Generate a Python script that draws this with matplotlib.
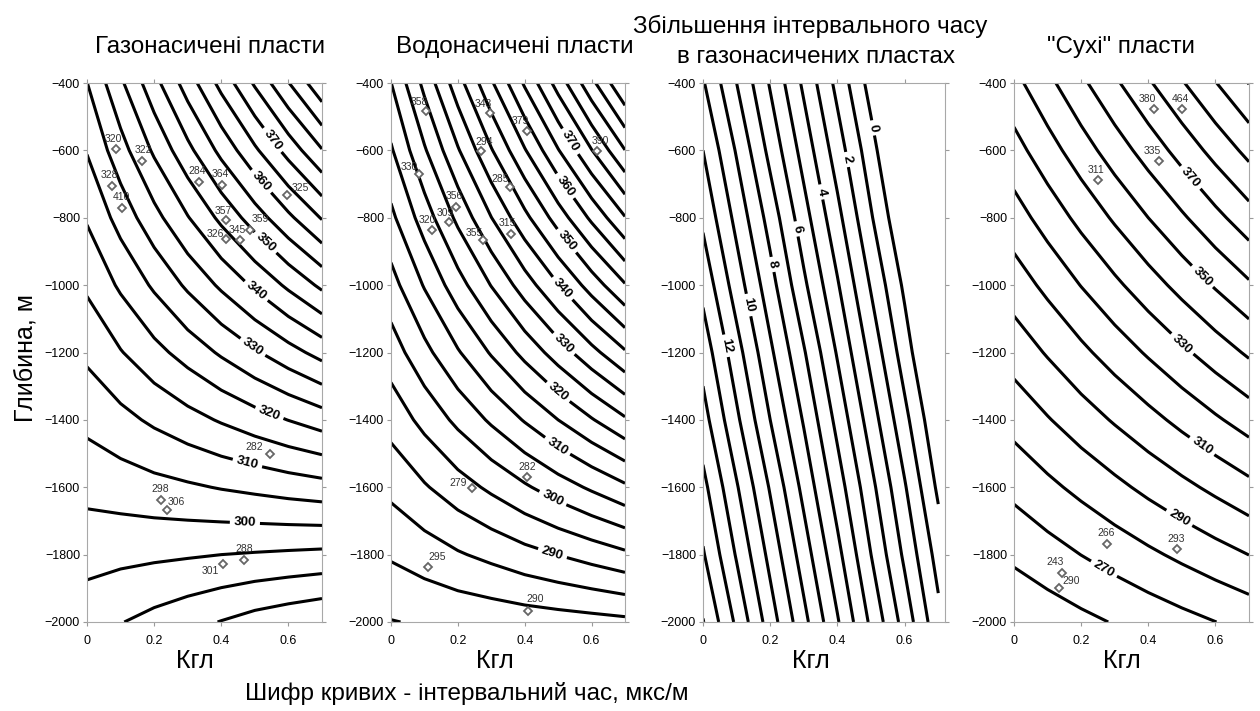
import numpy as np
import matplotlib.pyplot as plt

plt.rcParams['font.family'] = ['Liberation Sans', 'DejaVu Sans']

# grid nodes (Kгл across, depth down)
kgl = [0.0, 0.1, 0.2, 0.3, 0.4, 0.5, 0.6, 0.7]
depth = [-400, -600, -800, -1000, -1200, -1400, -1600, -1800, -2000]

# interval time, gas saturated beds
gas_dt = [
    [329.9, 339.1, 348.3, 357.4, 366.6, 375.7, 384.8, 394.0],
    [325.3, 333.0, 340.8, 348.6, 356.4, 364.1, 371.9, 379.7],
    [320.5, 326.9, 333.3, 339.7, 346.2, 352.5, 358.9, 365.4],
    [315.8, 320.8, 325.8, 330.9, 335.9, 340.9, 346.0, 351.1],
    [311.0, 314.7, 318.4, 322.0, 325.7, 329.4, 333.1, 336.8],
    [306.3, 308.5, 310.9, 313.2, 315.5, 317.8, 320.1, 322.4],
    [301.5, 302.4, 303.4, 304.3, 305.3, 306.2, 307.2, 308.1],
    [296.8, 296.3, 295.9, 295.5, 295.0, 294.6, 294.2, 293.8],
    [292.0, 290.2, 288.4, 286.6, 284.8, 283.0, 281.6, 280.3],
]

# interval time, water saturated beds
water_dt = [
    [319.9, 331.4, 342.9, 354.3, 365.7, 377.1, 388.6, 400.0],
    [314.4, 324.4, 334.5, 344.6, 354.6, 364.7, 374.8, 384.9],
    [308.8, 317.4, 326.2, 334.9, 343.6, 352.3, 361.0, 369.7],
    [303.1, 310.4, 317.9, 325.2, 332.5, 339.8, 347.2, 354.6],
    [297.5, 303.5, 309.5, 315.5, 321.5, 327.4, 333.4, 339.4],
    [291.9, 296.5, 301.2, 305.8, 310.4, 315.0, 319.6, 324.3],
    [286.3, 289.5, 292.8, 296.0, 299.3, 302.6, 305.8, 309.1],
    [280.6, 282.5, 284.5, 286.3, 288.3, 290.1, 292.0, 294.0],
    [274.8, 275.5, 276.1, 276.6, 277.2, 277.7, 278.2, 278.8],
]

# increase of interval time in gas beds
dt_increase = [
    [10.1, 8.0, 5.9, 3.8, 1.7, -0.4, -2.5, -4.6],
    [11.0, 8.9, 6.7, 4.6, 2.5, 0.4, -1.8, -3.9],
    [11.8, 9.7, 7.6, 5.4, 3.3, 1.1, -1.0, -3.2],
    [12.7, 10.5, 8.4, 6.2, 4.1, 1.9, -0.2, -2.4],
    [13.6, 11.4, 9.2, 7.1, 4.9, 2.7, 0.5, -1.7],
    [14.4, 12.2, 10.0, 7.9, 5.7, 3.5, 1.3, -0.9],
    [15.3, 13.1, 10.9, 8.7, 6.5, 4.3, 2.1, -0.2],
    [16.1, 13.9, 11.7, 9.5, 7.3, 5.0, 2.8, 0.6],
    [17.05, 14.8, 12.5, 10.3, 8.1, 5.8, 3.6, 1.3],
]

# interval time, "dry" beds
dry_dt = [
    [337.0, 347.4, 357.9, 368.3, 378.7, 389.1, 399.6, 410.3],
    [326.3, 335.8, 345.4, 354.9, 364.3, 373.8, 383.4, 392.9],
    [315.6, 324.2, 332.8, 341.4, 350.0, 358.5, 367.2, 375.8],
    [304.9, 312.5, 320.3, 327.9, 335.6, 343.3, 351.0, 358.6],
    [294.2, 300.9, 307.7, 314.5, 321.2, 328.0, 334.8, 341.5],
    [283.5, 289.3, 295.2, 301.0, 306.8, 312.7, 318.6, 324.4],
    [272.7, 277.7, 282.6, 287.5, 292.5, 297.4, 302.3, 307.3],
    [262.0, 266.0, 270.1, 274.1, 278.1, 282.1, 286.1, 290.1],
    [251.3, 254.4, 257.5, 260.6, 263.7, 266.8, 269.9, 273.0],
]

# well data points
gas_k = [0.086, 0.163, 0.073, 0.104, 0.334, 0.402, 0.595, 0.413, 0.486, 0.414,
         0.456, 0.545, 0.221, 0.239, 0.404, 0.468]
gas_h = [-595, -631, -707, -770, -693, -704, -731, -807, -835, -862,
         -866, -1501, -1637, -1668, -1829, -1815]
gas_val = [320, 322, 328, 410, 284, 364, 325, 357, 359, 326,
           345, 282, 298, 306, 301, 288]

water_k = [0.106, 0.295, 0.407, 0.270, 0.616, 0.084, 0.355, 0.194, 0.174, 0.122,
           0.276, 0.360, 0.407, 0.241, 0.112, 0.410]
water_h = [-482, -490, -543, -601, -603, -671, -708, -768, -813, -837,
           -867, -847, -1571, -1601, -1837, -1968]
water_val = [358, 343, 379, 294, 390, 330, 285, 356, 309, 320,
             355, 315, 282, 279, 295, 290]

dry_k = [0.416, 0.500, 0.431, 0.249, 0.277, 0.486, 0.144, 0.134]
dry_h = [-477, -477, -633, -688, -1768, -1784, -1856, -1900]
dry_val = [380, 464, 335, 311, 266, 293, 243, 290]

# label shifts in pixels (dx, dy up)
gas_shift = [(-3, 10), (2, 11), (-2, 11), (0, 11), (-2, 11), (-2, 11), (14, 7), (-2, 9),
             (10, 11), (-11, 5), (-3, 10), (-16, 7), (-1, 11), (9, 8), (-12, -7), (0, 11)]
water_shift = [(-7, 9), (-6, 9), (-7, 10), (3, 9), (3, 10), (-10, 7), (-9, 8), (-2, 11),
               (-4, 9), (-4, 10), (-9, 7), (-4, 11), (0, 10), (-13, 5), (9, 10), (7, 12)]
dry_shift = [(-6, 10), (-1, 10), (-6, 10), (-2, 10), (-1, 11), (-1, 10), (-7, 11), (12, 7)]

W, H = 1260, 711
fig = plt.figure(figsize=(W / 100, H / 100), dpi=100)


def fx(px):
    return px / W


def fy(py):
    return 1 - py / H


def make_axes(left, right, xmax):
    ax = fig.add_axes([fx(left), fy(622), (right - left) / W, (622 - 83) / H])
    ax.set_xlim(0, xmax)
    ax.set_ylim(-2000, -400)
    ax.set_xticks([0, 0.2, 0.4, 0.6])
    ax.set_xticklabels(['0', '0.2', '0.4', '0.6'])
    ax.set_yticks(np.arange(-2000, -399, 200))
    ax.tick_params(direction='out', length=3, width=0.8, color='#9a9a9a',
                   labelsize=9, top=True, right=True)
    ax.tick_params(axis='x', pad=6)
    ax.tick_params(axis='y', pad=2)
    for s in ax.spines.values():
        s.set_color('#a8a8a8')
        s.set_linewidth(0.8)
    return ax


def draw_field(ax, field, levels, label_levels, label_at):
    # unlabelled lines and labelled lines as two sets (same look)
    plain = [lv for lv in levels if lv not in label_levels]
    ax.contour(kgl, depth, field, levels=plain, colors='black', linewidths=2.2)
    cs = ax.contour(kgl, depth, field, levels=label_levels, colors='black', linewidths=2.2)
    texts = ax.clabel(cs, manual=label_at, inline=True, inline_spacing=4,
                      fmt='%d', fontsize=9.5)
    for t in texts:
        t.set_fontweight('bold')


def draw_points(ax, ks, hs, vals, shifts):
    ax.plot(ks, hs, linestyle='none', marker='D', markersize=4.5,
            markerfacecolor='white', markeredgecolor='#666666', markeredgewidth=1.3, zorder=5)
    for k, h, v, (dx, dy) in zip(ks, hs, vals, shifts):
        ax.annotate(str(v), (k, h), xytext=(dx * 0.72, dy * 0.72), textcoords='offset points',
                    ha='center', va='center', fontsize=7.5, color='#333333', zorder=6)


ax1 = make_axes(87, 322, 0.7)
draw_field(ax1, gas_dt, list(range(280, 400, 5)), [300, 310, 320, 330, 340, 350, 360, 370],
           [(0.47, -1713), (0.476, -1535), (0.54, -1388), (0.49, -1189), (0.50, -1022),
            (0.535, -870), (0.52, -691), (0.55, -571)])
draw_points(ax1, gas_k, gas_h, gas_val, gas_shift)

ax2 = make_axes(391, 625, 0.7)
draw_field(ax2, water_dt, list(range(275, 405, 5)), [290, 300, 310, 320, 330, 340, 350, 360, 370],
           [(0.48, -1805), (0.487, -1627), (0.50, -1475), (0.50, -1317), (0.526, -1165),
            (0.516, -1007), (0.53, -865), (0.526, -702), (0.54, -571)])
draw_points(ax2, water_k, water_h, water_val, water_shift)

ax3 = make_axes(703, 945, 0.72)
draw_field(ax3, dt_increase, list(range(0, 18)), [0, 2, 4, 6, 8, 10, 12],
           [(0.502, -534), (0.418, -629), (0.349, -724), (0.274, -834), (0.205, -939),
            (0.131, -1060), (0.069, -1180)])

ax4 = make_axes(1014, 1249, 0.7)
draw_field(ax4, dry_dt, list(range(250, 420, 10)), [270, 290, 310, 330, 350, 370],
           [(0.268, -1842), (0.49, -1695), (0.552, -1489), (0.507, -1168), (0.552, -983),
            (0.517, -688)])
draw_points(ax4, dry_k, dry_h, dry_val, dry_shift)

big = 17.5
fig.text(fx(210), fy(53), 'Газонасичені пласти', ha='center', va='baseline', fontsize=big)
fig.text(fx(515), fy(53), 'Водонасичені пласти', ha='center', va='baseline', fontsize=big)
fig.text(fx(810), fy(33), 'Збільшення інтервального часу', ha='center', va='baseline', fontsize=big)
fig.text(fx(816), fy(63), 'в газонасичених пластах', ha='center', va='baseline', fontsize=big)
fig.text(fx(1121), fy(53), '"Сухі" пласти', ha='center', va='baseline', fontsize=big)

for cx in [195, 495, 811, 1122]:
    fig.text(fx(cx), fy(668), 'Кгл', ha='center', va='baseline', fontsize=18)

fig.text(fx(25), fy(358), 'Глибина, м', rotation=90, ha='center', va='center', fontsize=18)
fig.text(fx(467), fy(700), 'Шифр кривих - інтервальний час, мкс/м', ha='center',
         va='baseline', fontsize=big)

fig.savefig('out.png', dpi=100)
